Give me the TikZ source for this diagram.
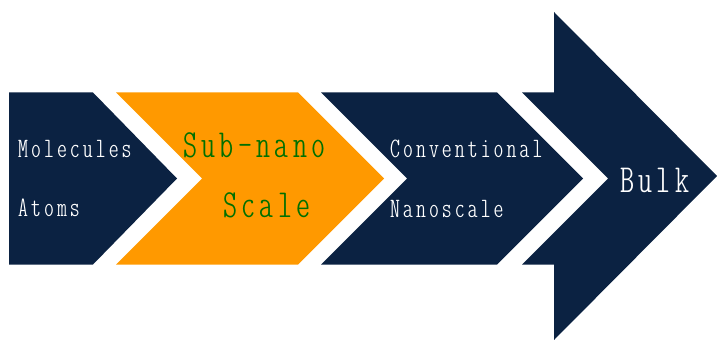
\documentclass[tikz,border=0pt]{standalone}
\usepackage{fontspec}
\usepackage{xcolor}
\usepackage{tikz}

\newfontfamily\thinmono{lmmonoltcond10-regular.otf}[LetterSpace=11]

\definecolor{navy}{HTML}{0B2242}
\definecolor{amber}{HTML}{FF9900}
\definecolor{leaf}{HTML}{007000}

\tikzset{
    small label/.style={anchor=base west, inner sep=0pt, text=white, font=\fontsize{24}{28}\thinmono},
    big label/.style={anchor=base west, inner sep=0pt, font=\fontsize{34}{40}\thinmono},
}

\begin{document}
\begin{tikzpicture}[x=0.03cm, y=-0.03cm]
    \useasboundingbox (0, 0) rectangle (717, 340);

    \fill[navy] (9, 92.5) -- (93, 92.5) -- (177, 178.5) -- (93, 264.5) -- (9, 264.5) -- cycle;
    \fill[amber] (116, 92.5) -- (298, 92.5) -- (384, 178.5) -- (298, 264.5) -- (116, 264.5) -- (202, 178.5) -- cycle;
    \fill[navy] (321, 92.5) -- (497, 92.5) -- (583, 178.5) -- (497, 264.5) -- (321, 264.5) -- (407, 178.5) -- cycle;
    \fill[navy] (522, 92.5) -- (554, 92.5) -- (554, 12) -- (717, 176) -- (554, 340) -- (554, 264.5) -- (522, 264.5) -- (608, 178.5) -- cycle;

    \node[small label] (molecules) at (18, 158) {Molecules};
    \node[small label] (atoms) at (18, 216.5) {Atoms};
    \node[big label, text=leaf] (subnano) at (183, 157) {Sub-nano};
    \node[big label, text=leaf] (scale) at (223, 218) {Scale};
    \node[small label] (conventional) at (390, 158) {Conventional};
    \node[small label] (nanoscale) at (390, 218) {Nanoscale};
    \node[big label, text=white] (bulk) at (620, 192) {Bulk};
\end{tikzpicture}
\end{document}
